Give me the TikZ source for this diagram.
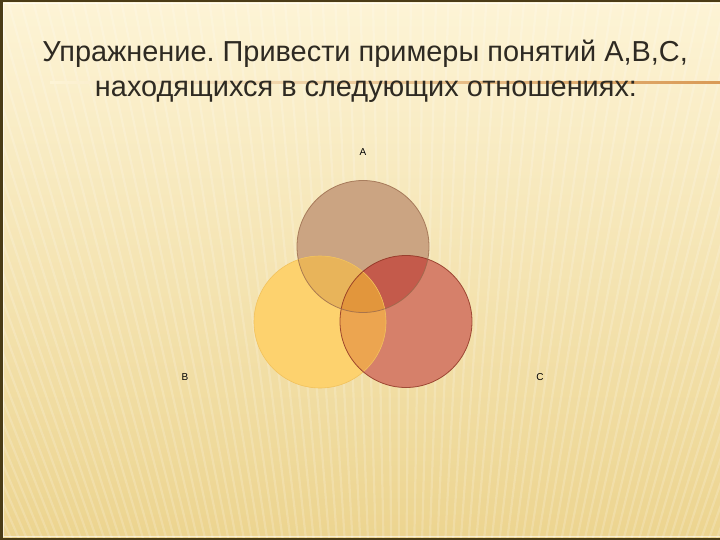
\documentclass[tikz,border=0pt]{standalone}
\usepackage{fontspec}
\setmainfont{Liberation Sans}
\frenchspacing
\definecolor{bgtop}{HTML}{FDF4D6}
\definecolor{bgmid}{HTML}{F8EABC}
\definecolor{bgbot}{HTML}{ECD48F}
\definecolor{frameC}{HTML}{4A3C16}
\definecolor{ruleC}{HTML}{D99A55}
\definecolor{titleC}{HTML}{2E2A22}
\definecolor{aOnly}{HTML}{CBA482}
\definecolor{bOnly}{HTML}{FDD26E}
\definecolor{cOnly}{HTML}{D6806A}
\definecolor{abC}{HTML}{E8B45A}
\definecolor{acC}{HTML}{C45A4B}
\definecolor{bcC}{HTML}{ECA550}
\definecolor{abcC}{HTML}{E2963C}
\definecolor{aLine}{HTML}{9A6A4C}
\definecolor{bLine}{HTML}{F2C25C}
\definecolor{cLine}{HTML}{8C3020}
\tikzset{
  titletext/.style={font=\fontsize{28.9}{34}\selectfont, text=titleC, inner sep=0pt, anchor=base},
  setlabel/.style={font=\fontsize{10}{12}\selectfont, text=black, inner sep=0pt},
  stripe/.style={white, opacity=0.18, line width=2.2pt}
}
\begin{document}
\begin{tikzpicture}[x=1pt,y=-1pt]
\useasboundingbox (0,0) rectangle (720,540);
% background
\shade[top color=bgtop, middle color=bgmid, bottom color=bgbot] (0,0) rectangle (720,540);
\begin{scope}
  \clip (0,0) rectangle (720,540);
  \foreach \i in {-20,...,125} {
    \draw[stripe] (400,1400) -- ({400+(\i*7-400)*1.8},0);
  }
\end{scope}
% frame (left, top, bottom)
\draw[frameC, line width=2.5pt] (722,1.25) -- (1.25,1.25) -- (1.25,538.75) -- (722,538.75);
\draw[white, opacity=0.6, line width=0.8pt] (722,3.2) -- (3.2,3.2) -- (3.2,536.8) -- (722,536.8);
% title rule
\shade[left color=bgtop, right color=ruleC] (50,81.8) rectangle (720,83.2);
% title
\node[titletext] (t1) at (365,62) {Упражнение. Привести примеры понятий А,В,С,};
\node[titletext] (t2) at (366,97) {находящихся в следующих отношениях:};
% circles
\coordinate (cA) at (363,246.5);
\coordinate (cB) at (320,322);
\coordinate (cC) at (406,321.5);
\def\R{66pt}
\fill[aOnly] (cA) circle[radius=\R];
\fill[bOnly] (cB) circle[radius=\R];
\fill[cOnly] (cC) circle[radius=\R];
\begin{scope}
  \clip (cA) circle[radius=\R];
  \fill[abC] (cB) circle[radius=\R];
  \fill[acC] (cC) circle[radius=\R];
\end{scope}
\begin{scope}
  \clip (cB) circle[radius=\R];
  \fill[bcC] (cC) circle[radius=\R];
  \clip (cA) circle[radius=\R];
  \fill[abcC] (cC) circle[radius=\R];
\end{scope}
\draw[bLine, line width=0.6pt] (cB) circle[radius=\R];
\draw[cLine, line width=0.8pt, opacity=0.8] (cC) circle[radius=\R];
\draw[aLine, line width=0.8pt, opacity=0.8] (cA) circle[radius=\R];
% labels
\node[setlabel] (lA) at (363,152) {А};
\node[setlabel] (lB) at (185,377) {В};
\node[setlabel] (lC) at (540,377) {С};
\end{tikzpicture}
\end{document}
